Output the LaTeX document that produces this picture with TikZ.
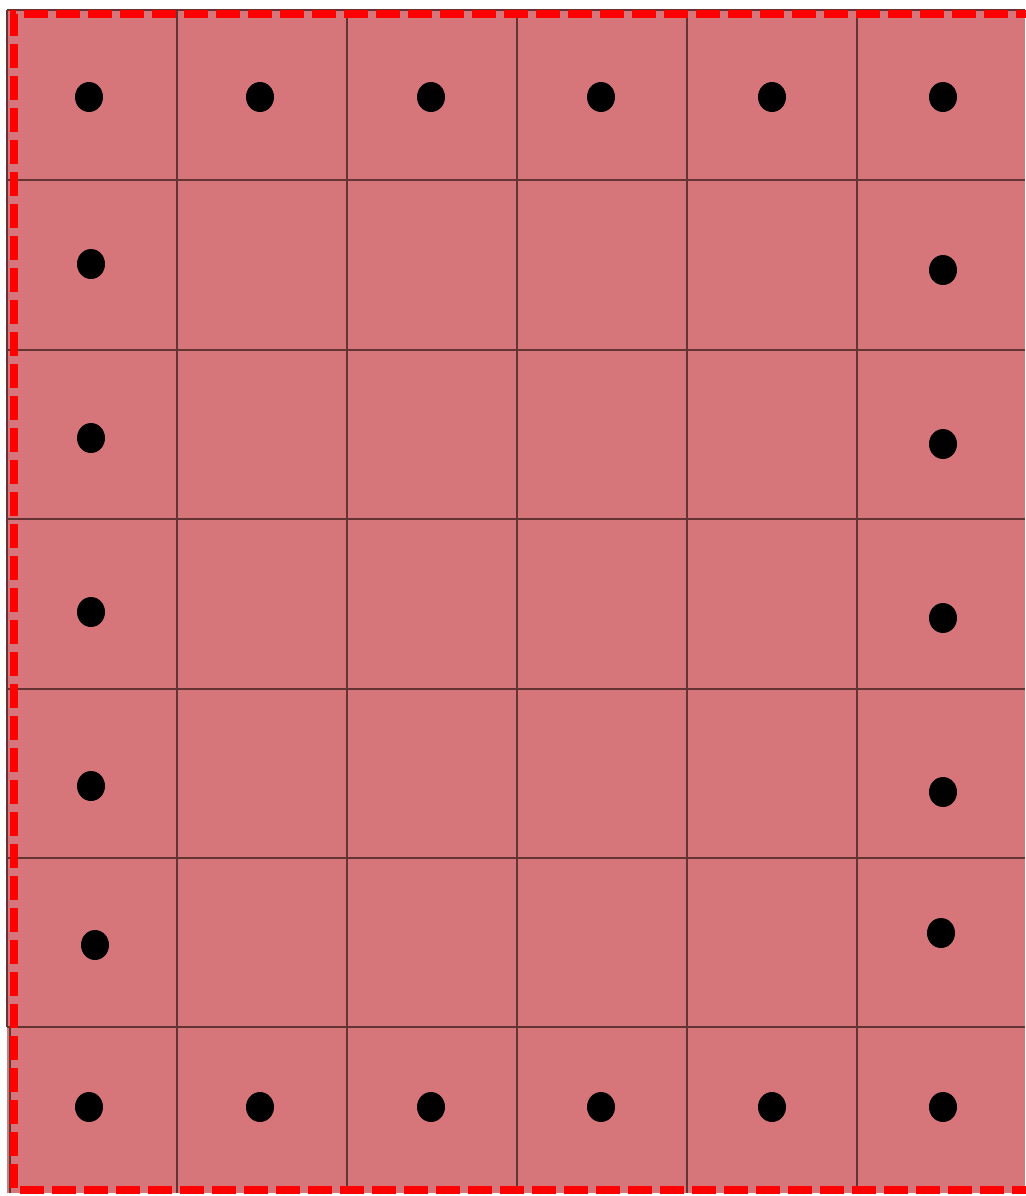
\documentclass[tikz,border=0pt]{standalone}
\usetikzlibrary{shapes.geometric}
\definecolor{tile}{RGB}{214,118,122}
\definecolor{grout}{RGB}{100,52,52}
\definecolor{bord}{RGB}{255,0,0}
\tikzset{
  dot/.style={ellipse,fill=black,draw=none,inner sep=0pt,minimum width=14pt,minimum height=15pt},
  groutline/.style={draw=grout,line width=1.3pt},
  redborder/.style={draw=bord,line width=3.8pt,dash pattern=on 12pt off 4pt}
}
\begin{document}
\begin{tikzpicture}[x=0.5pt,y=-0.5pt]
\useasboundingbox (0,0) rectangle (1025,1196);
\fill[white] (0,0) rectangle (1025,1196);
\fill[tile] (7,10) rectangle (1025,1193);
% grout lines
\foreach \x in {177,347,517,687,857}
  \draw[groutline] (\x,10) -- (\x,1193);
\foreach \y in {180,350,519,689,858,1027}
  \draw[groutline] (7,\y) -- (1025,\y);
\draw[groutline] (7,10) -- (1025,10);
\draw[groutline] (7,10) -- (7,1027);
\draw[groutline] (10,1027) -- (10,1193);
% dots
\node[dot] (t1) at (89,97) {};
\node[dot] (t2) at (260,97) {};
\node[dot] (t3) at (431,97) {};
\node[dot] (t4) at (601,97) {};
\node[dot] (t5) at (772,97) {};
\node[dot] (t6) at (943,97) {};
\node[dot] (l2) at (91,264) {};
\node[dot] (l3) at (91,438) {};
\node[dot] (l4) at (91,612) {};
\node[dot] (l5) at (91,786) {};
\node[dot] (l6) at (95,945) {};
\node[dot] (r2) at (943,270) {};
\node[dot] (r3) at (943,444) {};
\node[dot] (r4) at (943,618) {};
\node[dot] (r5) at (943,792) {};
\node[dot] (r6) at (941,933) {};
\node[dot] (b1) at (89,1107) {};
\node[dot] (b2) at (260,1107) {};
\node[dot] (b3) at (431,1107) {};
\node[dot] (b4) at (601,1107) {};
\node[dot] (b5) at (772,1107) {};
\node[dot] (b6) at (943,1107) {};
% red dashed border
\draw[redborder] (1040,14) -- (14,14) -- (14,1190) -- (1040,1190);
\end{tikzpicture}
\end{document}
